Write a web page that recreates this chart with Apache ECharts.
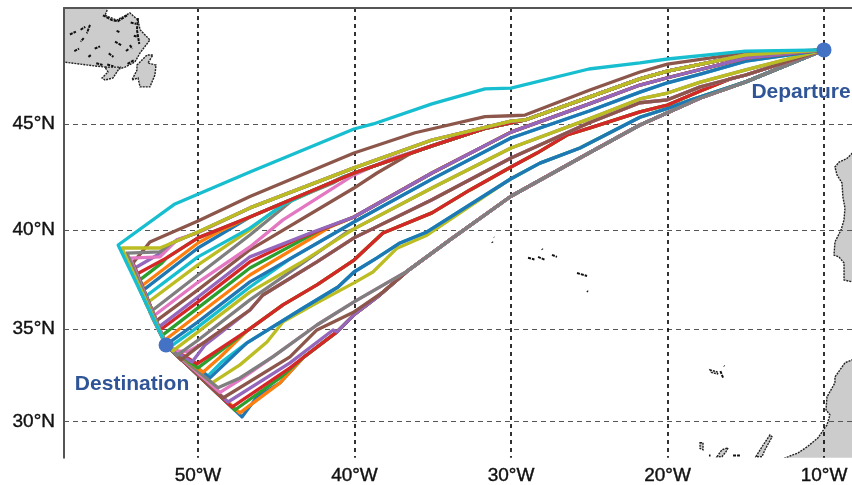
<!DOCTYPE html>
<html>
<head>
<meta charset="utf-8">
<style>html,body{margin:0;padding:0;background:#fff}#main{width:852px;height:485px}</style>
<script src="https://cdn.jsdelivr.net/npm/echarts@6/dist/echarts.min.js"></script>
</head>
<body>
<div id="main"></div>
<script>
// all positions are [lon, lat]
var departure = [-10, 48.25];
var destination = [-52.04, 34.15];
var lonTicks = [-50, -40, -30, -20, -10];
var latTicks = [30, 35, 40, 45];

var c = {blue:'#1f77b4', orange:'#ff7f0e', green:'#2ca02c', red:'#d62728', purple:'#9467bd',
	brown:'#8c564b', pink:'#e377c2', gray:'#7f7f7f', olive:'#bcbd22', cyan:'#17becf'};

// trunks that many routes end up sharing
var grayTrunk = [[-36.65,37.95],[-33.9,39.52],[-30,41.64],[-25.02,43.67],[-21.76,44.95],[-20,45.5],[-17.9,46.16],[-15,46.87]];
var grayFull = [[-47.32,32.39],[-45.2,33.53],[-42.4,35.2],[-40.03,36.4]].concat(grayTrunk);
var lowTrunk = [[-43.29,33.47],[-41.12,34.84],[-40.03,35.73],[-38.37,36.76]].concat(grayTrunk);
var blueLowTrunk = [[-46.87,34.26],[-43.48,35.98],[-41.05,37.16],[-40.03,37.92],[-38.56,38.63],[-37.09,39.37],[-35.37,39.91],[-30,42.47],[-28.15,43.2],[-25.59,43.9],[-21.76,45.3],[-20,45.7],[-18.53,46.07],[-15,46.87]];
var redMidTrunk = [[-46.87,34.89],[-44.57,36.24],[-42.4,37.27],[-40.03,38.52],[-38.18,39.86],[-35.05,40.84],[-32.62,41.94],[-30,43.02],[-28.34,43.67],[-26.42,44.5],[-24.95,44.82],[-21.76,45.54],[-20,45.85],[-17.9,46.47],[-16,47],[-15,47.17]];
var brownMidTrunk = [[-46.68,35.98],[-45.85,36.75],[-42.4,38.43],[-40.03,39.62],[-35.05,41.47],[-30,43.44],[-25,45.05],[-21.76,45.95],[-20,46.08],[-17.9,46.65],[-15,47.17]];
var oliveMidTrunk = [[-40.03,40.06],[-35.05,42.03],[-30,43.9],[-25,45.23],[-21.76,46.12],[-20,46.38],[-17.9,46.86],[-15,47.39]];
var blueMidTrunk = [[-40.03,40.4],[-35.05,42.45],[-30,44.36],[-25,45.58],[-21.76,46.42],[-20,46.83],[-17.9,47.21],[-15,47.77]];
var purpleMidTrunk = [[-40.03,40.64],[-35.05,42.74],[-30,44.63],[-25,45.9],[-21.76,46.73],[-20,47.05],[-15,47.9]];
var oliveNorthTrunk = [[-50,39.91],[-46.68,41.08],[-40.03,42.98],[-35.05,44.27],[-30,45.13],[-29.1,45.18],[-25,46.2],[-21.76,47],[-20,47.34],[-15,48.04]];
var redNorthTrunk = [[-52,38.63],[-50,39.62],[-46.68,40.64],[-40.03,42.74],[-35.05,44],[-31.66,44.8],[-30,45.05],[-29.1,45.18],[-25,46.2],[-21.76,47],[-20,47.34],[-15,48.04]];
var brownNorthTrunk = [[-53.07,39.42],[-50,40.45],[-46.68,41.63],[-40.03,43.67],[-36.13,44.6],[-31.66,45.33],[-30,45.37],[-29.1,45.4],[-25,46.5],[-21.76,47.3],[-20,47.64],[-15,48.12]];
var cyanNorthTrunk = [[-51.47,41.27],[-46.68,42.79],[-40.03,44.77],[-38.8,45],[-35.05,45.9],[-31.66,46.56],[-30,46.6],[-25.02,47.43],[-21.76,47.69],[-20,47.86],[-15.02,48.2]];

// drawn in this order, later ones cover earlier ones: colour, own western part, trunk it joins
var routes = [
	[c.blue,   [[-47.19,30.26],[-46.23,31.36],[-44.76,32.12]], lowTrunk],
	[c.orange, [[-47.32,30.48],[-44.76,32.12]], lowTrunk],
	[c.green,  [[-47.64,30.64],[-44.76,32.39]], lowTrunk],
	[c.red,    [[-47.83,30.8],[-44.12,32.93]], lowTrunk],
	[c.purple, [[-48.08,31.08],[-44.12,33.2],[-41.37,34.94]], lowTrunk],
	[c.brown,  [[-48.4,31.3],[-44.12,33.52],[-42.4,34.94],[-40.03,35.88],[-38.18,36.9]], grayTrunk],
	[c.pink,   [[-48.59,31.6],[-47.32,32.28]], grayFull],
	[c.olive,  [[-49.1,32.12],[-47.32,33.09],[-45.59,34.31],[-44.57,35.36],[-42.4,36.35],[-40.03,37.37],[-38.82,37.92],[-37.28,39.11],[-35.37,39.75]], blueLowTrunk],
	[c.cyan,   [[-49.36,32.5],[-48.47,33.25]], blueLowTrunk],
	[c.blue,   [[-49.23,32.39]], blueLowTrunk],
	[c.gray,   [[-48.72,31.86]], grayFull],
	[c.orange, [[-49.68,32.7],[-48.59,33.5]], redMidTrunk],
	[c.green,  [[-50,32.93]], redMidTrunk],
	[c.red,    [[-50.06,33.15]], redMidTrunk],
	[c.purple, [[-50.38,33.24],[-49.55,34.15]], brownMidTrunk],
	[c.pink,   [[-51.28,33.84],[-50.64,33.79],[-49.55,34.31]], brownMidTrunk],
	[c.brown,  [[-51.09,33.36],[-50,34.05]], brownMidTrunk],
	[c.gray,   [[-51.34,33.6],[-50,34.4],[-46.68,36.5],[-44.57,37.67],[-40.48,39.91]], oliveMidTrunk],
	[c.olive,  [[-51.6,33.84],[-50,34.84],[-46.68,36.9],[-43.48,38.37]], oliveMidTrunk],
	[c.cyan,   [[-51.79,34.05],[-50,35.1],[-46.68,37.16],[-44.12,38.58]], blueMidTrunk],
	[c.blue,   [[-50,35.36],[-46.68,37.42]], blueMidTrunk],
	[c.orange, [[-52.17,34.37],[-50,35.73],[-46.68,37.77],[-41.57,40.15]], purpleMidTrunk],
	[c.green,  [[-52.33,34.63],[-50,36.09],[-46.68,38.12],[-42.2,40]], purpleMidTrunk],
	[c.red,    [[-52.49,34.9],[-50,36.4],[-46.68,38.43],[-43.48,39.62]], purpleMidTrunk],
	[c.purple, [[-52.57,35.05],[-50,36.65],[-46.68,38.68],[-42.65,39.91]], purpleMidTrunk],
	[c.brown,  [[-52.75,35.36],[-50,37.01],[-46.68,39.03],[-40.03,42.03],[-38.56,42.74],[-36.26,43.71]], redNorthTrunk],
	[c.pink,   [[-52.94,35.6],[-50,37.4],[-46.68,39.17],[-44.57,40.5],[-40.03,42.65],[-37.73,43.39]], redNorthTrunk],
	[c.gray,   [[-53.07,35.86],[-50,37.77],[-46.68,39.76],[-43.93,41.47],[-41.37,42.27],[-40.73,42.55]], redNorthTrunk],
	[c.olive,  [[-53.32,36.3],[-50,38.28],[-46.68,40.01],[-45.72,40.6],[-44.57,41.23],[-40.73,42.55]], redNorthTrunk],
	[c.cyan,   [[-53.48,36.6],[-50,38.68],[-46.68,40.1],[-44.57,41.23],[-40.73,42.55]], redNorthTrunk],
	[c.blue,   [[-53.64,36.91],[-50,39.12]], redNorthTrunk],
	[c.orange, [[-53.77,37.11],[-50,39.37],[-48.72,39.91]], redNorthTrunk],
	[c.green,  [[-53.71,37.52],[-52.3,38.38]], redNorthTrunk],
	[c.red,    [[-53.9,37.82]], redNorthTrunk],
	[c.purple, [[-54.03,38.12],[-52.62,38.76],[-51.34,39.52],[-50.06,39.86]], oliveNorthTrunk],
	[c.brown,  [[-54.15,38.38]], brownNorthTrunk],
	[c.pink,   [[-54.34,38.62],[-52.43,38.68],[-51.34,39.52],[-50.06,39.86]], oliveNorthTrunk],
	[c.gray,   [[-54.54,38.87],[-52.43,38.93],[-51.66,39.37]], oliveNorthTrunk],
	[c.olive,  [[-54.86,39.12],[-52.43,39.12]], oliveNorthTrunk],
	[c.cyan,   [[-55.1,39.27]], cyanNorthTrunk]
];

// coast and islands
var land = [
	[[-58.56,50.2],[-55.75,50.2],[-55.75,50],[-55.94,49.7],[-55.18,49.5],[-54.35,49.8],[-53.83,49.5],[-53.7,49.1],[-53.07,48.67],[-53.7,48.12],[-54.03,47.73],[-54.66,47.51],[-55.3,47.38],[-55.94,47.51],[-57.54,47.64],[-58.56,47.73]],
	[[-55.94,47.51],[-54.98,47.51],[-55.43,47.04],[-55.94,46.95],[-56.13,47.04],[-55.75,47.3]],
	[[-53.9,47.6],[-53.26,48.03],[-52.88,48.03],[-53.2,47.69],[-52.68,47.6],[-52.75,47.17],[-53.07,46.65],[-53.7,46.65],[-53.83,47.04],[-54.22,46.95],[-53.9,47.38]],
	[[-8,43.7],[-8.21,43.65],[-8.53,43.42],[-9.04,43.25],[-9.3,43.02],[-9.17,42.65],[-8.85,42.27],[-8.79,41.6],[-8.66,41.07],[-8.72,40.5],[-8.91,40.01],[-9.3,39.42],[-9.36,38.77],[-9.04,38.67],[-8.72,38.37],[-8.72,37.52],[-8.21,37.42],[-8,37.4]],
	[[-8,33.5],[-8.21,33.36],[-8.66,33.2],[-9.3,32.44],[-9.3,32.12],[-9.81,31.36],[-9.87,30.65],[-9.62,30.37],[-9.81,29.82],[-10.38,29.1],[-11.08,28.59],[-11.66,28.25],[-12.49,27.97],[-12.6,27.8],[-8,27.8]],
	[[-14.35,28.04],[-13.96,28.6],[-13.45,29.26],[-13.32,29.15],[-13.77,28.43],[-13.96,28.04]],
	[[-16.84,28.04],[-16.52,28.43],[-16.13,28.54],[-16.26,28.32],[-16.52,28.04]],
	[[-17.92,28.82],[-17.73,28.82],[-17.73,28.43],[-17.92,28.5]],
	[[-17.28,32.82],[-16.77,32.7],[-16.8,32.6],[-17.2,32.68]]
];
// lakes and very small islands, too small for a fill
var specks = [
	[[-56.07,49.7],[-55.5,49.5],[-55.11,49.46],[-54.47,49.72]],
	[[-53.83,49.58],[-53.9,49.1],[-53.75,48.5]],
	[[-54.3,49.4],[-53.95,49.35]],
	[[-54.1,48.85],[-53.85,48.8]],
	[[-54.35,48.45],[-54.2,48.3]],
	[[-58.18,48.9],[-57.8,49.02]],
	[[-57.5,49.1],[-57.2,49.22]],
	[[-56.9,49.3],[-57.1,48.95]],
	[[-57.3,48.75],[-57.5,48.6]],
	[[-56.6,48.3],[-56.26,48.4]],
	[[-57.9,48.2],[-57.6,48.3]],
	[[-57.0,47.95],[-56.8,48.05]],
	[[-55.3,48.6],[-54.9,48.45]],
	[[-55.7,48.1],[-55.4,47.95]],
	[[-54.6,48.2],[-54.4,48.3]],
	[[-55.2,49.05],[-55.0,49.0]],
	[[-56.5,47.68],[-56.1,47.6]],
	[[-55.8,47.62],[-55.4,47.55]],
	[[-54.5,47.65],[-54.1,47.8]],
	[[-31.21,39.42],[-31.17,39.38]],
	[[-31.09,39.66],[-31.07,39.64]],
	[[-28.91,38.63],[-28.5,38.55]],
	[[-28.27,38.68],[-27.83,38.53]],
	[[-28.02,39.08],[-27.98,39.04]],
	[[-27.38,38.78],[-27.06,38.68]],
	[[-25.78,37.87],[-25.14,37.72]],
	[[-25.14,36.96],[-25.08,36.92]],
	[[-16.39,33.04],[-16.36,33.02]],
	[[-16.62,32.75],[-16.45,32.4]],
	[[-15.81,28.1],[-15.37,28.1]],
	[[-17.35,28.1],[-17.25,28.1]]
];

// the map is in mercator, so the y axis runs on the mercator value of the latitude
function merc(lat) {
	return Math.log(Math.tan(Math.PI / 4 + lat * Math.PI / 360)) * 180 / Math.PI;
}
function unmerc(v) {
	return (2 * Math.atan(Math.exp(v * Math.PI / 180)) - Math.PI / 2) * 180 / Math.PI;
}
function toXY(p) {
	return [p[0], merc(p[1])];
}

var chart = echarts.init(document.getElementById('main'));

var tickFont = {
	fontFamily: 'Liberation Sans', fontSize: 19, color: '#111',
	textBorderColor: '#111', textBorderWidth: 0.4
};
var blueLabel = {
	show: true, position: 'inside', color: '#2f5597', fontFamily: 'Liberation Sans',
	fontWeight: 'bold', fontSize: 21
};
var series = [];

series.push({
	type: 'custom',
	coordinateSystem: 'cartesian2d',
	silent: true,
	clip: true,
	z: -1,
	data: land.map(function (p, i) { return [i]; }),
	encode: {x: -1, y: -1},
	renderItem: function (params, api) {
		var pts = land[params.dataIndex].map(function (p) { return api.coord(toXY(p)); });
		return {type: 'polygon', shape: {points: pts}, style: {fill: '#cccccc', stroke: '#222', lineWidth: 1.4, lineDash: [2, 1]}};
	}
});
series.push({
	type: 'custom',
	coordinateSystem: 'cartesian2d',
	silent: true,
	clip: true,
	z: -1,
	data: specks.map(function (p, i) { return [i]; }),
	encode: {x: -1, y: -1},
	renderItem: function (params, api) {
		var pts = specks[params.dataIndex].map(function (p) { return api.coord(toXY(p)); });
		return {type: 'polyline', shape: {points: pts}, style: {fill: null, stroke: '#111', lineWidth: 2, lineDash: [3, 1]}};
	}
});

routes.forEach(function (r) {
	var tail = r[1];
	var lastLon = tail[tail.length - 1][0];
	var east = r[2].filter(function (p) { return p[0] > lastLon; });
	var pts = [destination].concat(tail, east, [departure]);
	series.push({
		type: 'line',
		silent: true,
		showSymbol: false,
		animation: false,
		data: pts.map(toXY),
		lineStyle: {color: r[0], width: 3.3, cap: 'round', join: 'round'}
	});
});

series.push({
	type: 'scatter',
	silent: true,
	symbolSize: 15,
	z: 5,
	itemStyle: {color: '#4472c4', opacity: 1},
	data: [
		{value: toXY(departure), label: Object.assign({formatter: 'Departure', offset: [-23, 42]}, blueLabel)},
		{value: toXY(destination), label: Object.assign({formatter: 'Destination', offset: [-34, 39]}, blueLabel)}
	]
});

chart.setOption({
	animation: false,
	grid: {left: 64, top: 8, width: 788, height: 450, containLabel: false},
	xAxis: [{
		type: 'value',
		min: -58.56,
		max: -8.21,
		position: 'bottom',
		axisLine: {show: false},
		axisTick: {show: false, customValues: lonTicks},
		axisLabel: Object.assign({
			customValues: lonTicks,
			margin: 8,
			formatter: function (v) { return Math.abs(v) + '°W'; }
		}, tickFont),
		splitLine: {show: true, lineStyle: {color: '#000', type: [4, 4], width: 1.6}}
	}, {
		type: 'value',
		min: -58.56,
		max: -8.21,
		position: 'top',
		axisLine: {show: true, onZero: false, lineStyle: {color: '#555', width: 2}},
		axisTick: {show: false},
		axisLabel: {show: false},
		splitLine: {show: false}
	}],
	yAxis: {
		type: 'value',
		min: 29.16,
		max: 57.91,
		axisLine: {show: true, onZero: false, lineStyle: {color: '#555', width: 2}},
		axisTick: {show: false, customValues: latTicks.map(merc)},
		axisLabel: Object.assign({
			customValues: latTicks.map(merc),
			margin: 9,
			formatter: function (v) { return Math.round(unmerc(v)) + '°N'; }
		}, tickFont),
		splitLine: {show: true, lineStyle: {color: '#555', type: [5, 4], width: 1}}
	},
	series: series
});
</script>
</body>
</html>
